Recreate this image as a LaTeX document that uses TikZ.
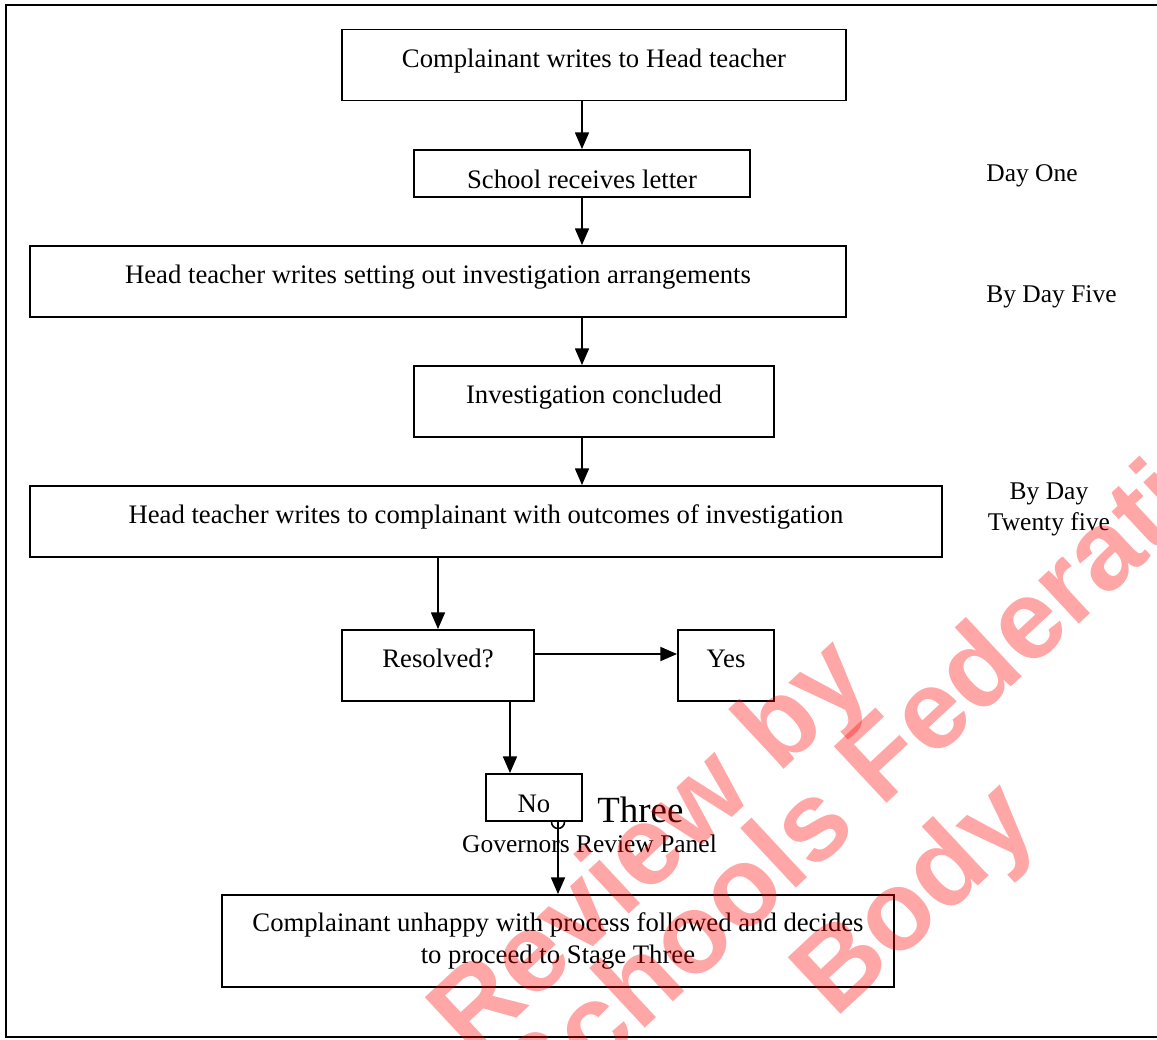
\documentclass[tikz,border=0pt]{standalone}
\usepackage{fontspec}
\setmainfont{Liberation Serif}
\newfontfamily\markfont{Liberation Sans}
\usetikzlibrary{arrows.meta}

\begin{document}
\begin{tikzpicture}[x=0.02cm, y=-0.02cm,
    font=\fontsize{15.2}{17.8}\selectfont,
    box/.style={draw, line width=1.1pt, inner sep=0pt},
    tall/.style={box, minimum height=1.42cm, text height=10pt, text depth=7.2pt},
    flow/.style={line width=0.9pt, -{Triangle[length=9.5pt,width=8pt]}},
    note/.style={anchor=base west, inner sep=0pt, font=\fontsize{14.5}{17.6}\selectfont},
    stamp/.style={anchor=base west, rotate=43, inner sep=0pt, text=red,
        text opacity=0.35, font=\markfont\bfseries\fontsize{64}{69}\selectfont}
    ]
    \useasboundingbox (0,0) rectangle (1157,1039);
    \clip (0,0) rectangle (1157,1039);
    \draw[line width=1.2pt] (6,5) rectangle (1180,1037);

    % stages
    \node[tall, minimum width=10.08cm] (write) at (594,65) {Complainant writes to Head teacher};
    \node[box, minimum width=6.72cm, minimum height=0.94cm, text height=18.3pt, text depth=1.3pt]
        (receive) at (582,173.5) {School receives letter};
    \node[tall, minimum width=16.32cm] (arrange) at (438,281.5) {Head teacher writes setting out investigation arrangements};
    \node[tall, minimum width=7.2cm] (concluded) at (594,401.5) {Investigation concluded};
    \node[tall, minimum width=18.24cm] (outcome) at (486,521.5) {Head teacher writes to complainant with outcomes of investigation};
    \node[tall, minimum width=3.84cm] (resolved) at (438,665.5) {Resolved?};
    \node[tall, minimum width=1.92cm] (yes) at (726,665.5) {Yes};
    \node[box, minimum width=1.92cm, minimum height=0.94cm, text height=19pt, text depth=2pt]
        (no) at (534,797.5) {No};
    \node[box, align=center, minimum width=13.44cm, minimum height=1.84cm] (stage3) at (558,941)
        {Complainant unhappy with process followed and decides\\to proceed to Stage Three};

    % days
    \node[note] (day1) at (986,181) {Day One};
    \node[note] (day5) at (986,302) {By Day Five};
    \node[note, anchor=center, align=center] (day25) at (1049,509) {By Day\\Twenty five};

    \node[note, font=\fontsize{21}{25}\selectfont] (three) at (597,822) {Three};
    \node[note, anchor=base] (panel) at (589.5,852) {Governors Review Panel};

    % arrows
    \draw[flow] (receive.north |- write.south) -- (receive.north);
    \draw[flow] (receive.south) -- (receive.south |- arrange.north);
    \draw[flow] (receive.south |- arrange.south) -- (receive.south |- concluded.north);
    \draw[flow] (receive.south |- concluded.south) -- (receive.south |- outcome.north);
    \draw[flow] (resolved.north |- outcome.south) -- (resolved.north);
    \draw[flow] ([yshift=0.23cm]resolved.east) -- ([yshift=0.23cm]yes.west);
    \coordinate (split) at ([xshift=1.44cm]resolved.south);
    \draw[flow] (split) -- (split |- no.north);
    \coordinate (hop) at (stage3.north |- no.south);
    \draw[flow] (hop) -- (stage3.north);
    \draw[line width=0.9pt] ([xshift=-0.13cm]hop) arc[start angle=180, end angle=360, radius=0.13cm];

    % watermark
    \node[stamp] (wm1) at (472,1060) {Review by};
    \node[stamp] (wm2) at (539,1128) {Schools Federation};
    \node[stamp] (wm3) at (835,1020) {Body};
\end{tikzpicture}
\end{document}
